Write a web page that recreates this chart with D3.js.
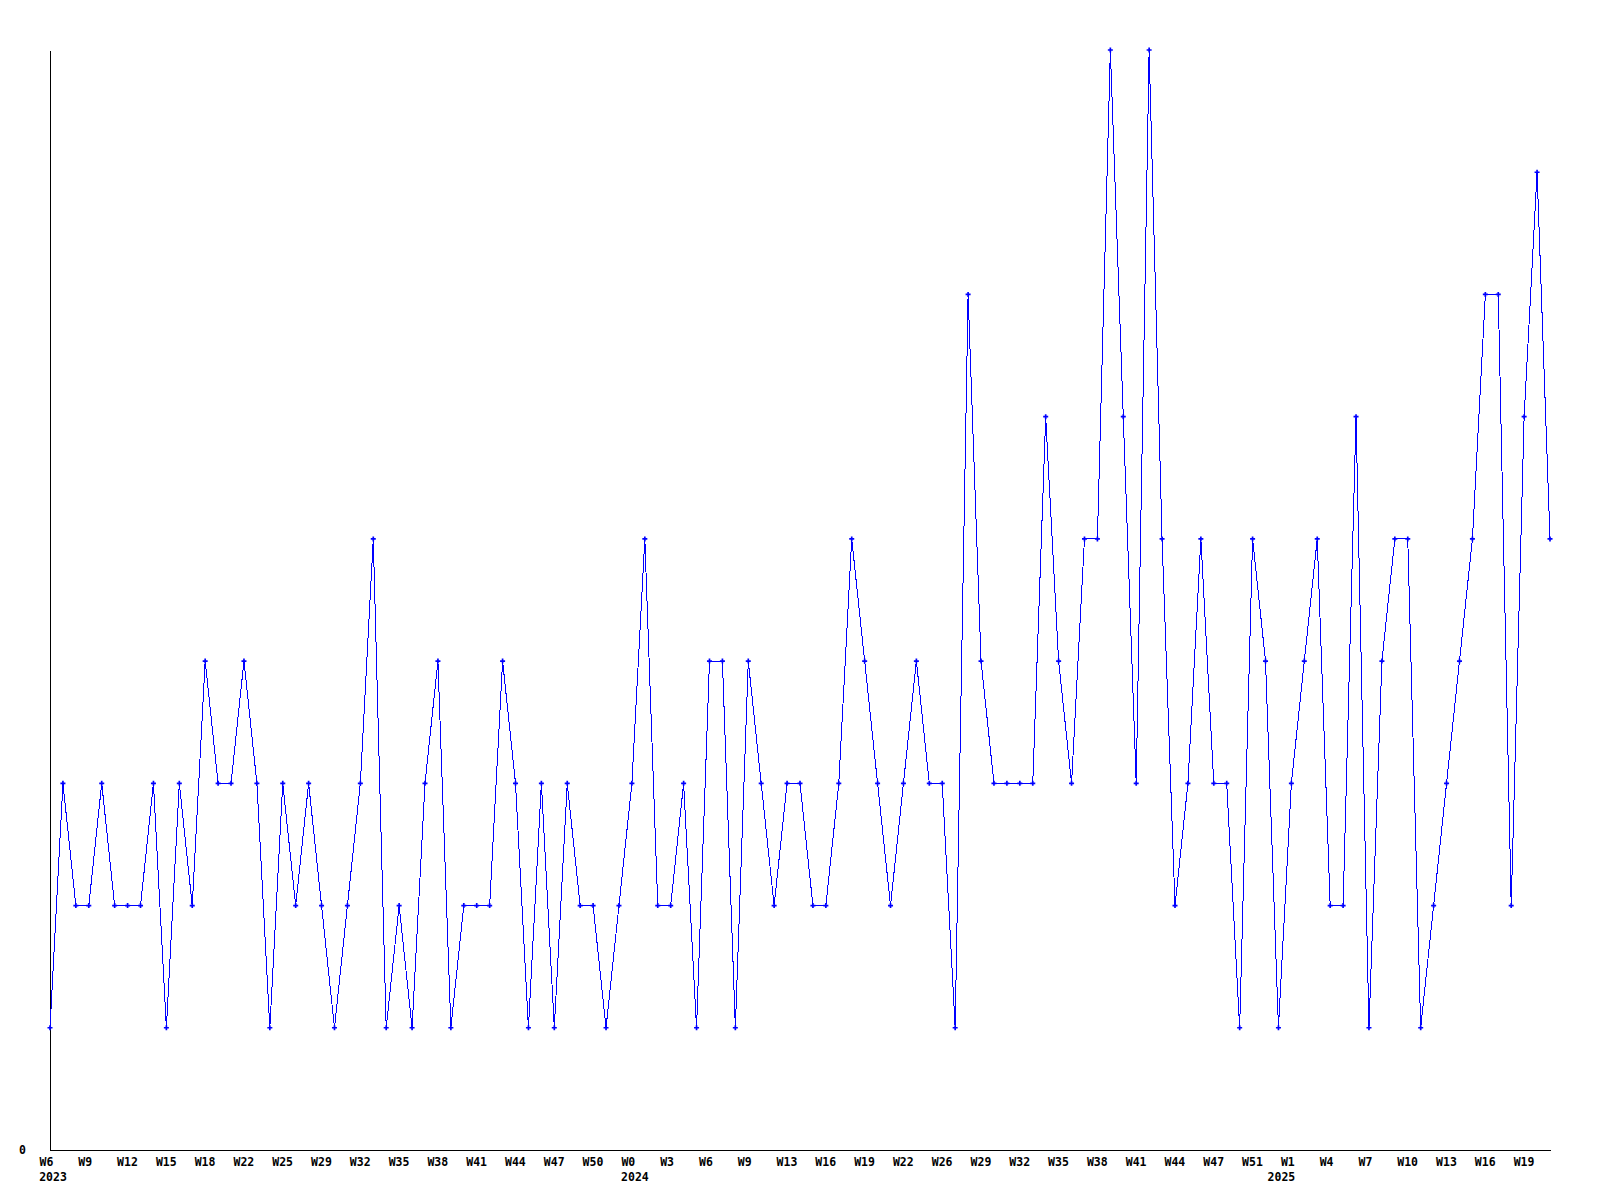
<!DOCTYPE html>
<html>
<head>
<meta charset="utf-8">
<script src="https://cdn.jsdelivr.net/npm/d3@7"></script>
<style>
  html, body { margin: 0; padding: 0; background: #ffffff; }
  svg { display: block; }
  text { font-family: "DejaVu Sans Mono", "Liberation Mono", monospace; font-weight: bold; font-size: 11.5px; fill: #000; }
</style>
</head>
<body>
<div id="chart"></div>
<script>
// weekly values, 2023 W6 .. 2025 W21
const values = [
  1,3,2,2,3,2,2,2,3,1,
  3,2,4,3,3,4,3,1,3,2,
  3,2,1,2,3,5,1,2,1,3,
  4,1,2,2,2,4,3,1,3,1,
  3,2,2,1,2,3,5,2,2,3,
  1,4,4,1,4,3,2,3,3,2,
  2,3,5,4,3,2,3,4,3,3,
  1,7,4,3,3,3,3,6,4,3,
  5,5,9,6,3,9,5,2,3,5,
  3,3,1,5,4,1,3,4,5,2,
  2,6,1,4,5,5,1,2,3,4,
  5,7,7,2,6,8,5
];

// week labels shown on every third category
const weekTickLabels = [
  "W6","W9","W12","W15","W18","W22","W25","W29","W32","W35","W38","W41","W44","W47","W50",
  "W0","W3","W6","W9","W13","W16","W19","W22","W26","W29","W32","W35","W38","W41","W44","W47","W51",
  "W1","W4","W7","W10","W13","W16","W19"
];
const tickEvery = 3;

// year labels and the category where each year begins
const yearLabels = ["2023", "2024", "2025"];
const yearStartIndex = [0, 45, 95];

const yTickValues = [0];
const yMax = 9;

const W = 1600, H = 1200;
const mLeft = 50, mRight = 1550, mTop = 50, mBottom = 1150;

const svg = d3.select("#chart").append("svg")
  .attr("width", W).attr("height", H);

const x = d3.scaleLinear().domain([0, values.length - 1]).range([mLeft, mRight]);
const y = d3.scaleLinear().domain([0, yMax]).range([mBottom, mTop]);

// Y axis
const yAxis = d3.axisLeft(y).tickValues(yTickValues).tickSize(0).tickPadding(24).tickSizeOuter(0);
const gy = svg.append("g").attr("transform", `translate(${mLeft},0)`).call(yAxis);
gy.select(".domain").attr("stroke", "#000").attr("shape-rendering", "crispEdges");
gy.selectAll("text").attr("font-family", null).attr("font-size", null).attr("fill", "#000");

// X axis
const tickIdx = weekTickLabels.map((_, i) => i * tickEvery);
const xAxis = d3.axisBottom(x).tickValues(tickIdx)
  .tickFormat((d, i) => weekTickLabels[i]).tickSize(0).tickSizeOuter(0);
const gx = svg.append("g").attr("transform", `translate(0,${mBottom})`).call(xAxis);
gx.select(".domain").attr("stroke", "#000").attr("shape-rendering", "crispEdges");
gx.selectAll("text")
  .attr("font-family", null).attr("font-size", null).attr("fill", "#000")
  .attr("text-anchor", "start").attr("dx", -11).attr("y", 16).attr("dy", 0);

// Year labels
svg.append("g").selectAll("text").data(yearLabels).join("text")
  .attr("x", (d, i) => x(yearStartIndex[i]) + 3)
  .attr("y", mBottom + 31)
  .attr("text-anchor", "middle")
  .text(d => d);

// Line
const line = d3.line().x((d, i) => x(i)).y(d => y(d));
svg.append("path").datum(values)
  .attr("d", line)
  .attr("fill", "none")
  .attr("stroke", "#0000ff")
  .attr("stroke-width", 1)
  .attr("shape-rendering", "crispEdges");

// Markers
const sym = d3.symbol().type(d3.symbolCross).size(14);
svg.append("g").selectAll("path").data(values).join("path")
  .attr("transform", (d, i) => `translate(${x(i)},${y(d)})`)
  .attr("d", sym)
  .attr("fill", "#0000ff");
</script>
</body>
</html>
